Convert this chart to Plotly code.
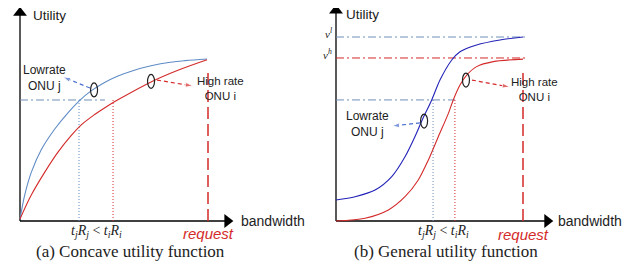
import plotly.graph_objects as go

# ---------------- data (normalised: request bandwidth = 1, max utility = 1) -------------
# (a) concave utility
a_low_x = [0, 0.025, 0.060, 0.113, 0.185, 0.255, 0.318, 0.378, 0.450, 0.521, 0.600, 0.697, 0.800, 0.878, 0.995]
a_low_y = [0.012, 0.160, 0.300, 0.440, 0.568, 0.668, 0.745, 0.803, 0.855, 0.895, 0.928, 0.958, 0.980, 0.990, 1.0]
a_high_x = [0, 0.060, 0.131, 0.202, 0.273, 0.326, 0.397, 0.468, 0.521, 0.697, 0.840, 0.995]
a_high_y = [0.012, 0.160, 0.300, 0.425, 0.528, 0.593, 0.657, 0.712, 0.748, 0.858, 0.930, 0.995]
a_level = 0.747
a_tjRj, a_tiRi = 0.314, 0.495
a_request = 1.0
a_ell_low = (0.394, 0.809)
a_ell_high = (0.697, 0.862)

# (b) general (sigmoidal) utility
b_low_x = [0, 0.102, 0.209, 0.298, 0.369, 0.422, 0.461, 0.512, 0.556, 0.619, 0.663, 0.752, 0.877, 1.0]
b_low_y = [0.114, 0.132, 0.168, 0.241, 0.349, 0.458, 0.549, 0.658, 0.766, 0.875, 0.920, 0.957, 0.984, 1.0]
b_high_x = [0, 0.155, 0.280, 0.369, 0.440, 0.494, 0.547, 0.601, 0.627, 0.663, 0.699, 0.752, 0.841, 1.0]
b_high_y = [0, 0.015, 0.060, 0.132, 0.223, 0.332, 0.458, 0.585, 0.658, 0.739, 0.793, 0.839, 0.866, 0.880]
b_vl, b_vh = 1.0, 0.886
b_level = 0.658
b_tjRj, b_tiRi = 0.519, 0.636
b_request = 1.0
b_ell_low = (0.471, 0.543)
b_ell_high = (0.695, 0.766)

captions = ["(a) Concave utility function", "(b) General utility function"]
tick_text = "<i>t<sub>j</sub>R<sub>j</sub></i>&nbsp;&lt;&nbsp;<i>t<sub>i</sub>R<sub>i</sub></i>"

# ---------------- layout geometry (pixels; page body has an 8px margin) ----------------
OFF = 8
W, H = 641 - OFF, 266 - OFF
SPLIT = (320 - OFF) / W
panels = {
    "a": dict(ox=20 - OFF, oy=221 - OFF, sx=188, sy=162, d=[0, SPLIT], xr="x", yr="y",
              xtip=1.133, ytip=1.315),
    "b": dict(ox=336 - OFF, oy=221 - OFF, sx=187, sy=184, d=[SPLIT, 1], xr="x2", yr="y2",
              xtip=1.160, ytip=1.174),
}

RED = "#d42a2a"
BLUE_A = "#5f8cc6"
BLUE_B = "#2222b8"
GRAYBLUE = "#6f8fb8"
SERIF = "Liberation Serif, Times New Roman, serif"
SANS = "Liberation Sans, Arial, sans-serif"

fig = go.Figure()

def add(trace, p):
    trace.update(xaxis=p["xr"], yaxis=p["yr"], showlegend=False, hoverinfo="skip")
    fig.add_trace(trace)

def hline(p, x0, x1, y, color, dash, width=1):
    add(go.Scatter(x=[x0, x1], y=[y, y], mode="lines",
                   line=dict(color=color, dash=dash, width=width)), p)

def vline(p, x, y0, y1, color, dash, width=1):
    add(go.Scatter(x=[x, x], y=[y0, y1], mode="lines",
                   line=dict(color=color, dash=dash, width=width)), p)

def arrow(p, x0, y0, x1, y1, color):
    add(go.Scatter(x=[x0, x1], y=[y0, y1], mode="lines+markers",
                   line=dict(color=color, dash="4px,3px", width=1.2),
                   marker=dict(symbol="arrow", size=[0, 8], angleref="previous",
                               color=color)), p)

def axes(p):
    vline(p, 0, 0, p["ytip"] - 0.04, "black", "solid", 1.3)
    hline(p, 0, p["xtip"] - 0.04, 0, "black", "solid", 1.3)
    add(go.Scatter(x=[0], y=[p["ytip"] - 0.03], mode="markers",
                   marker=dict(symbol="triangle-up", size=12, color="black")), p)
    add(go.Scatter(x=[p["xtip"] - 0.03], y=[0], mode="markers",
                   marker=dict(symbol="triangle-right", size=12, color="black")), p)

def text(p, x, y, s, size, color="#222", family=SANS, xanchor="center", italic=False):
    fig.add_annotation(x=x, y=y, xref=p["xr"], yref=p["yr"], text=s, showarrow=False,
                       xanchor=xanchor, yanchor="middle", borderpad=0,
                       font=dict(size=size, color=color, family=family,
                                 style="italic" if italic else "normal"))

def ellipse(p, pt):
    fig.add_shape(type="circle", xref=p["xr"], yref=p["yr"], xsizemode="pixel",
                  ysizemode="pixel", xanchor=pt[0], yanchor=pt[1],
                  x0=-3.5, x1=3.5, y0=-7, y1=7, line=dict(color="#222", width=1.2))

# ---------- panel (a) ----------
pa = panels["a"]
axes(pa)
hline(pa, 0, 0.452, a_level, GRAYBLUE, "8px,3px,2px,3px")
vline(pa, a_tjRj, 0, a_level, BLUE_A, "1px,2px")
vline(pa, a_tiRi, 0, a_level, RED, "1px,2px")
vline(pa, a_request, 0, 0.944, RED, "12px,5px", 1.5)
add(go.Scatter(x=a_low_x, y=a_low_y, mode="lines", line=dict(color=BLUE_A, width=1.1, shape="spline", smoothing=1.0)), pa)
add(go.Scatter(x=a_high_x, y=a_high_y, mode="lines", line=dict(color=RED, width=1.1, shape="spline", smoothing=1.0)), pa)
ellipse(pa, a_ell_low)
ellipse(pa, a_ell_high)
arrow(pa, 0.372, 0.821, 0.229, 0.889, "#4a6fd0")
arrow(pa, 0.729, 0.870, 0.920, 0.833, RED)
text(pa, 0.064, 1.268, "Utility", 13.5, xanchor="left")
text(pa, 1.170, 0, "bandwidth", 14, xanchor="left")
text(pa, 0.128, 0.883, "Lowrate<br>ONU j", 12)
text(pa, 1.064, 0.815, "High rate<br>ONU i", 11.5)
text(pa, (a_tjRj + a_tiRi) / 2, -0.063, tick_text, 14, family=SERIF)
text(pa, a_request, -0.080, "request", 15, color=RED, italic=True)
text(pa, 0.59, -0.190, captions[0], 17, family=SERIF)

# ---------- panel (b) ----------
pb = panels["b"]
axes(pb)
hline(pb, 0, 1.011, b_vl, GRAYBLUE, "8px,3px,2px,3px")
hline(pb, 0, 1.011, b_vh, RED, "8px,3px,2px,3px")
hline(pb, 0, b_tiRi, b_level, GRAYBLUE, "8px,3px,2px,3px")
vline(pb, b_tjRj, 0, b_level, GRAYBLUE, "1px,2px")
vline(pb, b_tiRi, 0, b_level, RED, "1px,2px")
vline(pb, b_request, 0, 0.832, RED, "12px,5px", 1.5)
add(go.Scatter(x=b_low_x, y=b_low_y, mode="lines", line=dict(color=BLUE_B, width=1.1, shape="spline", smoothing=0.8)), pb)
add(go.Scatter(x=b_high_x, y=b_high_y, mode="lines", line=dict(color=RED, width=1.1, shape="spline", smoothing=0.8)), pb)
ellipse(pb, b_ell_low)
ellipse(pb, b_ell_high)
arrow(pb, 0.449, 0.533, 0.299, 0.516, "#4a6fd0")
arrow(pb, 0.727, 0.766, 0.930, 0.728, RED)
text(pb, 0.048, 1.122, "Utility", 13.5, xanchor="left")
text(pb, 1.182, 0, "bandwidth", 14, xanchor="left")
text(pb, -0.018, b_vl + 0.02, "<i>ν<sup>l</sup></i>", 11, family=SERIF, xanchor="right")
text(pb, -0.018, b_vh + 0.02, "<i>ν<sup>h</sup></i>", 11, family=SERIF, xanchor="right")
text(pb, 0.171, 0.527, "Lowrate<br>ONU j", 12)
text(pb, 1.064, 0.717, "High rate<br>ONU i", 11.5)
text(pb, (b_tjRj + b_tiRi) / 2, -0.056, tick_text, 14, family=SERIF)
text(pb, b_request, -0.071, "request", 15, color=RED, italic=True)
text(pb, 0.588, -0.168, captions[1], 17, family=SERIF)

# ---------- axes mapping ----------
def ax_ranges(p):
    d0, d1 = p["d"][0] * W, p["d"][1] * W
    xr = [(d0 - p["ox"]) / p["sx"], (d1 - p["ox"]) / p["sx"]]
    yr = [(p["oy"] - H) / p["sy"], p["oy"] / p["sy"]]
    return xr, yr

hidden = dict(visible=False, showgrid=False, zeroline=False, fixedrange=True)
xa, ya = ax_ranges(pa)
xb, yb = ax_ranges(pb)
fig.update_layout(
    width=W, height=H, margin=dict(l=0, r=0, t=0, b=0),
    paper_bgcolor="white", plot_bgcolor="white",
    xaxis=dict(domain=pa["d"], range=xa, **hidden),
    yaxis=dict(domain=[0, 1], range=ya, **hidden),
    xaxis2=dict(domain=pb["d"], range=xb, anchor="y2", **hidden),
    yaxis2=dict(domain=[0, 1], range=yb, anchor="x2", **hidden),
)

fig.write_html("out.html")
